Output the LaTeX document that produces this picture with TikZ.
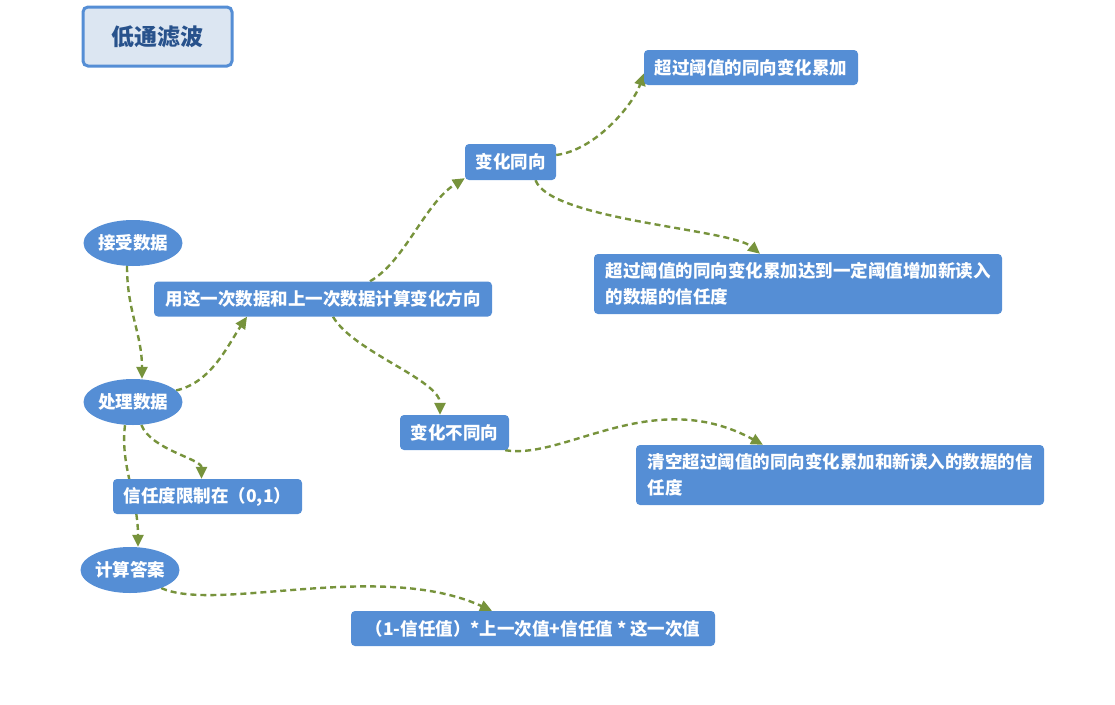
\documentclass[tikz,border=0pt]{standalone}
\usepackage{fontspec}
\newfontfamily\cjk{Noto Sans CJK SC}
\usetikzlibrary{arrows.meta,shapes.geometric,backgrounds}
\definecolor{boxblue}{RGB}{85,142,213}
\definecolor{linkgreen}{RGB}{119,147,60}
\definecolor{titlefill}{RGB}{220,230,242}
\definecolor{titletext}{RGB}{40,82,140}

\tikzset{
  topic/.style={rectangle, rounded corners=4pt, fill=boxblue, text=white,
    font=\cjk\bfseries\fontsize{17.5}{26}\selectfont, inner xsep=10pt, inner ysep=0pt,
    minimum height=35pt},
  stage/.style={ellipse, fill=boxblue, text=white, inner sep=0pt,
    font=\cjk\bfseries\fontsize{17.5}{26}\selectfont, minimum width=94pt, minimum height=46pt},
  link/.style={-{Triangle[length=12pt,width=11pt]}, draw=linkgreen, line width=2.4pt,
    dash pattern=on 6pt off 4pt}
}

\begin{document}
\begin{tikzpicture}[x=1pt, y=-1pt]
  \useasboundingbox (0,0) rectangle (1115,704);

  % Title
  \node[draw=boxblue, line width=3pt, fill=titlefill, rounded corners=5pt, text=titletext,
    font=\cjk\bfseries\fontsize{23}{28}\selectfont, minimum width=149pt, minimum height=59pt]
    (title) at (157.5,36.5) {低通滤波};

  % Main steps on the left
  \node[stage] (receive) at (133,243) {接受数据};
  \node[stage] (process) at (133,402) {处理数据};
  \node[stage, minimum width=95pt] (compute) at (130,570) {计算答案};

  % Boxes
  \node[topic, minimum width=338pt] (direction) at (323,299) {用这一次数据和上一次数据计算变化方向};
  \node[topic, minimum width=189pt] (limit) at (207.5,496.5) {信任度限制在（0,1）};
  \node[topic, minimum width=364pt] (formula) at (533,628.5) {（1-信任值）*上一次值+信任值 * 这一次值};
  \node[topic, minimum width=91pt, minimum height=36pt] (same) at (510.5,162) {变化同向};
  \node[topic, minimum width=214pt] (accum) at (751,67.5) {超过阈值的同向变化累加};
  \node[topic, minimum width=408pt, minimum height=60pt, align=left] (raise) at (798,284)
    {超过阈值的同向变化累加达到一定阈值增加新读入\\的数据的信任度};
  \node[topic, minimum width=109pt] (differ) at (454.5,432.5) {变化不同向};
  \node[topic, minimum width=408pt, minimum height=60pt, align=left] (clear) at (840,475)
    {清空超过阈值的同向变化累加和新读入的数据的信\\任度};

  % Connectors
  \begin{scope}[on background layer]
    \draw[link] ([xshift=-6pt]receive.south) .. controls +(0,45) and +(0,-45) .. ([xshift=9pt]process.north);
    \draw[link] (process.15) .. controls +(35,-8) and +(-20,30) .. ([xshift=-76pt]direction.south);
    \draw[link] ([xshift=47pt]direction.north) .. controls +(35,-20) and +(-40,25) .. ([yshift=2pt]same.south west);
    \draw[link] ([xshift=10pt]direction.south) .. controls +(20,35) and +(0,-35) .. ([xshift=-14.5pt]differ.north);
    \draw[link] ([yshift=7pt]same.east) .. controls +(40,-5) and +(-10,30) .. ([yshift=-6pt]accum.west);
    \draw[link] ([xshift=25pt]same.south) .. controls +(15,40) and +(-30,-25) .. ([xshift=-38pt]raise.north);
    \draw[link] ([xshift=-4pt]differ.south east) .. controls +(60,10) and +(-110,-60) .. ([xshift=-77pt]clear.north);
    \draw[link] ([xshift=-8pt]process.south) .. controls +(-5,40) and +(0,-50) .. ([xshift=8pt]compute.north);
    \draw[link] (process.-70) .. controls +(10,25) and +(0,-20) .. ([xshift=-6pt]limit.north);
    \draw[link] (compute.-30) .. controls +(55,25) and +(-112,-51) .. ([xshift=-41pt]formula.north);
  \end{scope}
\end{tikzpicture}
\end{document}
